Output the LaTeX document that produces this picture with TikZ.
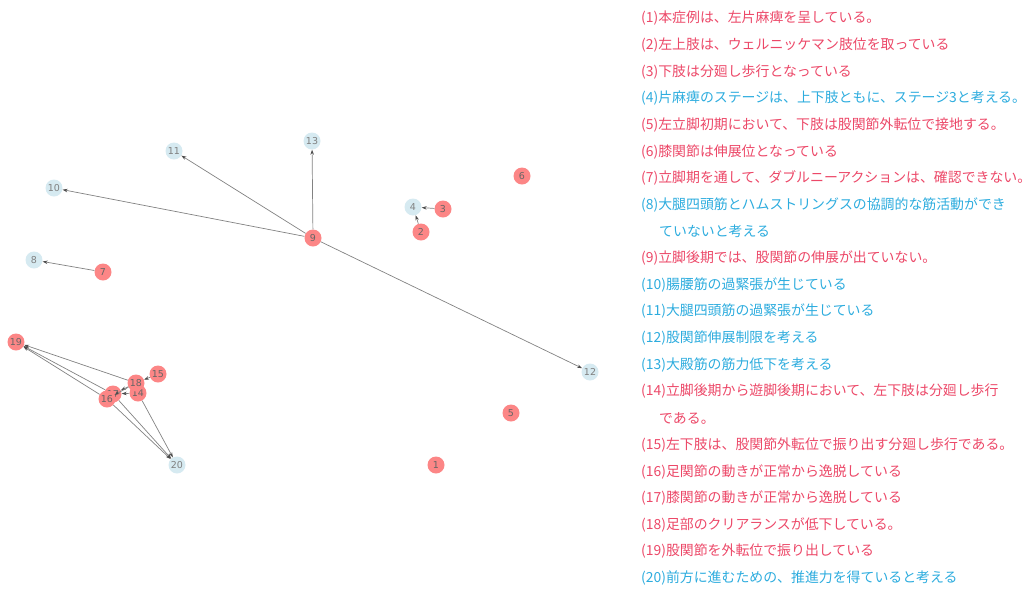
\documentclass[tikz,border=0pt]{standalone}
\usepackage{fontspec}
\newfontfamily\cjk{Noto Sans CJK JP}
\newfontfamily\lab{DejaVu Sans}
\usetikzlibrary{arrows.meta}
\definecolor{nred}{RGB}{252,134,134}
\definecolor{nblue}{RGB}{214,234,241}
\definecolor{tred}{RGB}{236,72,104}
\definecolor{tblue}{RGB}{45,172,222}
\definecolor{edgec}{RGB}{130,130,130}
\tikzset{
  rn/.style={circle,fill=nred,minimum size=17pt,inner sep=0pt,font=\lab\fontsize{9.5}{10}\selectfont,text=black!60},
  bn/.style={circle,fill=nblue,minimum size=17pt,inner sep=0pt,font=\lab\fontsize{9.5}{10}\selectfont,text=black!50},
  ed/.style={draw=edgec,line width=0.7pt,-{Stealth[length=5pt,width=3.5pt,black!70]}},
  tr/.style={anchor=west,inner sep=0pt,text=tred,font=\cjk\fontsize{13.9}{15}\selectfont},
  tb/.style={anchor=west,inner sep=0pt,text=tblue,font=\cjk\fontsize{13.9}{15}\selectfont},
}
\begin{document}
\begin{tikzpicture}[x=1pt,y=-1pt]
\useasboundingbox (0,0) rectangle (1031,590);
% nodes
\node[rn] (n1) at (436,465) {1};
\node[rn] (n2) at (421,232) {2};
\node[rn] (n3) at (443,209) {3};
\node[bn] (n4) at (413,207) {4};
\node[rn] (n5) at (511,413) {5};
\node[rn] (n6) at (522,176) {6};
\node[rn] (n7) at (103,272) {7};
\node[bn] (n8) at (34,260) {8};
\node[rn] (n9) at (313,238) {9};
\node[bn] (n10) at (54,188) {10};
\node[bn] (n11) at (174,151) {11};
\node[bn] (n12) at (590,372) {12};
\node[bn] (n13) at (312,141) {13};
\node[rn] (n17) at (113,394) {17};
\node[rn] (n16) at (107,399) {16};
\node[rn] (n14) at (138,393) {14};
\node[rn] (n18) at (136,383) {18};
\node[rn] (n15) at (158,374) {15};
\node[rn] (n19) at (16,342) {19};
\node[bn] (n20) at (177,465) {20};
% edges
\draw[ed] (n3) -- (n4);
\draw[ed] (n2) -- (n4);
\draw[ed] (n7) -- (n8);
\draw[ed] (n9) -- (n10);
\draw[ed] (n9) -- (n11);
\draw[ed] (n9) -- (n13);
\draw[ed] (n9) -- (n12);
\draw[ed] (n15) -- (n18);
\draw[ed] (n18) -- (n19);
\draw[ed] (n18) -- (n17);
\draw[ed] (n18) -- (n16);
\draw[ed] (n14) -- (n17);
\draw[ed] (n16) -- (n19);
\draw[ed] (n17) -- (n19);
\draw[ed] (n16) -- (n20);
\draw[ed] (n17) -- (n20);
\draw[ed] (n14) -- (n20);
% text
\node[tr] (t1) at (641,18) {(1)本症例は、左片麻痺を呈している。};
\node[tr] (t2) at (641,45) {(2)左上肢は、ウェルニッケマン肢位を取っている};
\node[tr] (t3) at (641,72) {(3)下肢は分廻し歩行となっている};
\node[tb] (t4) at (641,98) {(4)片麻痺のステージは、上下肢ともに、ステージ3と考える。};
\node[tr] (t5) at (641,125) {(5)左立脚初期において、下肢は股関節外転位で接地する。};
\node[tr] (t6) at (641,152) {(6)膝関節は伸展位となっている};
\node[tr] (t7) at (641,178) {(7)立脚期を通して、ダブルニーアクションは、確認できない。};
\node[tb] (t8) at (641,205) {(8)大腿四頭筋とハムストリングスの協調的な筋活動ができ};
\node[tb] (t8b) at (659,231) {ていないと考える};
\node[tr] (t9) at (641,258) {(9)立脚後期では、股関節の伸展が出ていない。};
\node[tb] (t10) at (641,285) {(10)腸腰筋の過緊張が生じている};
\node[tb] (t11) at (641,311) {(11)大腿四頭筋の過緊張が生じている};
\node[tb] (t12) at (641,338) {(12)股関節伸展制限を考える};
\node[tb] (t13) at (641,365) {(13)大殿筋の筋力低下を考える};
\node[tr] (t14) at (641,391) {(14)立脚後期から遊脚後期において、左下肢は分廻し歩行};
\node[tr] (t14b) at (659,418) {である。};
\node[tr] (t15) at (641,445) {(15)左下肢は、股関節外転位で振り出す分廻し歩行である。};
\node[tr] (t16) at (641,472) {(16)足関節の動きが正常から逸脱している};
\node[tr] (t17) at (641,498) {(17)膝関節の動きが正常から逸脱している};
\node[tr] (t18) at (641,525) {(18)足部のクリアランスが低下している。};
\node[tr] (t19) at (641,551) {(19)股関節を外転位で振り出している};
\node[tb] (t20) at (641,578) {(20)前方に進むための、推進力を得ていると考える};
\end{tikzpicture}
\end{document}
